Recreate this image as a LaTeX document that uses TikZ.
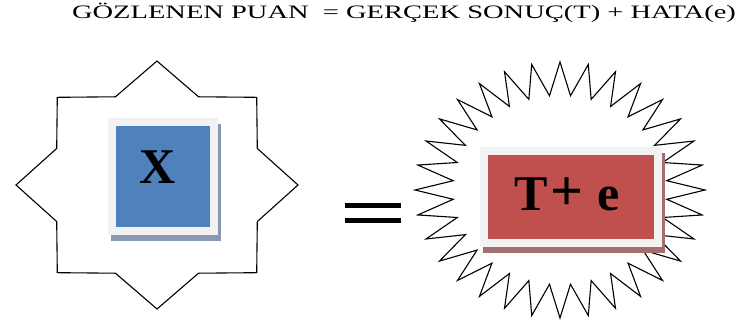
\documentclass[tikz,border=0pt]{standalone}
\usepackage{fontspec}
\setmainfont{Liberation Serif}
\newfontfamily\widefont[FakeStretch=1.5]{Liberation Serif}
\usepackage{tikz}
\usetikzlibrary{shadows,positioning}
\usepackage{xcolor}
\definecolor{framegrey}{HTML}{F2F2F2}
\definecolor{boxblue}{HTML}{4F81BD}
\definecolor{boxred}{HTML}{C0504D}
\definecolor{blueshade}{HTML}{8A99B2}
\definecolor{redshade}{HTML}{A46E6E}

\tikzset{
  starline/.style={draw=black, fill=white, line width=1.1pt, line join=miter},
  framebox/.style={fill=framegrey, inner sep=0pt,
    path picture={\fill[#1] ([shift={(8pt,-8pt)}]path picture bounding box.north west) rectangle ([shift={(-8pt,8pt)}]path picture bounding box.south east);}},
  bigletter/.style={font=\fontsize{50}{50}\selectfont\bfseries, inner sep=0pt, anchor=base},
}

\begin{document}
\begin{tikzpicture}[x=1pt,y=-1pt]
\useasboundingbox (0,0) rectangle (750,323);

%Title
\node[font=\widefont\fontsize{19}{19}\selectfont, inner sep=0pt, anchor=base] (title) at (404,18.5) {GÖZLENEN PUAN\ \ = GERÇEK SONUÇ(T) + HATA(e)};

%Left star
\draw[starline, shift={(157,185)}, x=141pt, y=124pt] (1,0) \foreach \k in {0,...,7} { -- ({0.77*cos(\k*45+22.5)},{0.77*sin(\k*45+22.5)}) -- ({cos(\k*45+45)},{sin(\k*45+45)}) } -- cycle;

%Right starburst
\draw[starline, shift={(560,190)}, x=145pt, y=128pt] (1,0) \foreach \k in {0,...,31} { -- ({0.74*cos(\k*11.25+5.625)},{0.74*sin(\k*11.25+5.625)}) -- ({cos(\k*11.25+11.25)},{sin(\k*11.25+11.25)}) } -- cycle;

%Observed score box
\node[framebox=boxblue, minimum width=110pt, minimum height=117pt, drop shadow={shadow xshift=3pt, shadow yshift=-6pt, fill=blueshade, opacity=1}] (xbox) at (163,176.5) {};
\node[bigletter] (xlabel) at (158,184) {X};

%Equals sign
\fill (345,203) rectangle (401,208);
\fill (345,218) rectangle (401,223);

%True score plus error box
\node[framebox=boxred, minimum width=182pt, minimum height=100pt, drop shadow={shadow xshift=3pt, shadow yshift=-6pt, fill=redshade, opacity=1}] (tebox) at (571,197) {};
\node[bigletter] (telabel) at (567,211) {T\hspace{3pt}{\fontsize{58}{58}\selectfont+}\hspace{14pt}e};
\end{tikzpicture}
\end{document}
